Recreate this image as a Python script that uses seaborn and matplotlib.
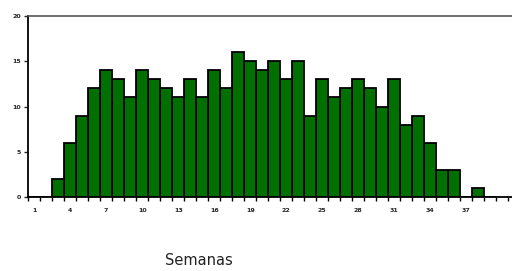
import numpy as np
import matplotlib
matplotlib.use("Agg")
import matplotlib.pyplot as plt
import seaborn as sns

# -- data ---------------------------------------------------------------------
weeks = list(range(1, 40))
counts = [0, 0, 2, 6, 9, 12, 14, 13, 11, 14,
          13, 12, 11, 13, 11, 14, 12, 16, 15, 14,
          15, 13, 15, 9, 13, 11, 12, 13, 12, 10,
          13, 8, 9, 6, 3, 3, 0, 1, 0]
xticks = list(range(1, 38, 3))
yticks = [0, 5, 10, 15, 20]

# -- figure -------------------------------------------------------------------
sns.set_style("white")
fig = plt.figure(figsize=(5.12, 2.71), dpi=100)
ax = fig.add_axes([0.055, 0.273, 0.945, 0.668])

sns.histplot(x=weeks, weights=counts, discrete=True, ax=ax,
             color="#007000", alpha=1, edgecolor="black", linewidth=1.3,
             shrink=1.0)

ax.set_xlim(0.5, 40.8)
ax.set_ylim(0, 20)
ax.set_yticks(yticks)
ax.set_xticks(xticks)
ax.set_xticks(np.arange(0.5, 40.6, 1), minor=True)
ax.tick_params(axis="x", which="major", length=0, labelsize=4.5, pad=8)
ax.tick_params(axis="x", which="minor", length=3, width=1, color="black",
               direction="out", bottom=True)
ax.tick_params(axis="y", length=3, width=1, labelsize=4.5, pad=2,
               direction="out", left=True)
for lbl in ax.get_xticklabels() + ax.get_yticklabels():
    lbl.set_fontweight("bold")
ax.set_xlabel("")
ax.set_ylabel("")

for side in ["left", "bottom"]:
    ax.spines[side].set_color("black")
    ax.spines[side].set_linewidth(1.3)
ax.spines["top"].set_color("#555555")
ax.spines["top"].set_linewidth(1.2)
ax.spines["right"].set_visible(False)

fig.text(0.388, 0.012, "Semanas", ha="center", va="bottom", fontsize=10.5,
         color="#222222")

fig.savefig("out.png", dpi=100)
plt.close(fig)
